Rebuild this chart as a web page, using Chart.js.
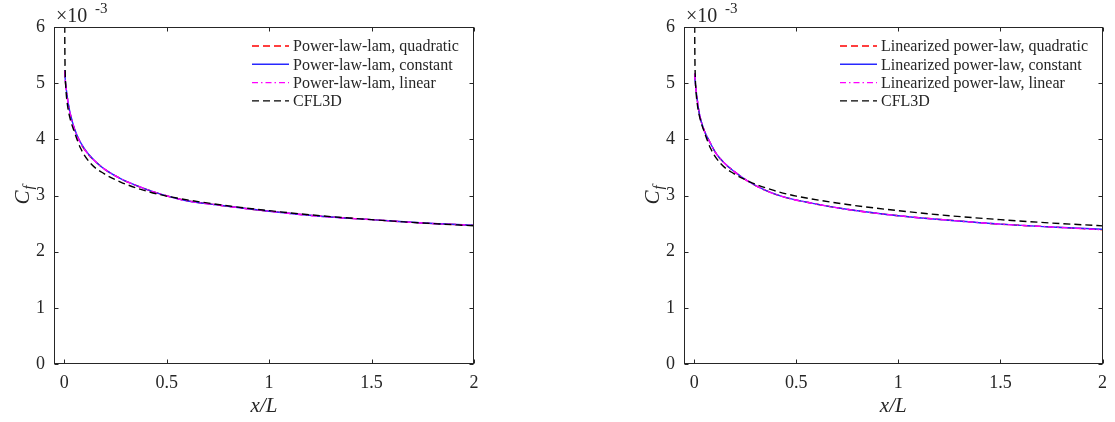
<!DOCTYPE html>
<html>
<head>
<meta charset="utf-8">
<script src="https://cdn.jsdelivr.net/npm/chart.js@4"></script>
<style>
  body{margin:0;background:#fff;width:1115px;height:422px;overflow:hidden}
  .panel{position:absolute;top:0;height:422px}
  #left{left:0;width:557px}
  #right{left:557px;width:558px}
</style>
</head>
<body>
<div class="panel" id="left"><canvas id="cLeft"></canvas></div>
<div class="panel" id="right"><canvas id="cRight"></canvas></div>
<script>
// axis ticks
const xTicks = [0, 0.5, 1, 1.5, 2];
const xTickLabels = ['0', '0.5', '1', '1.5', '2'];
const yTicks = [0, 1, 2, 3, 4, 5, 6];

// Cf values are in units of 1e-3 (see the x10^-3 note on the axis)
const xCfl3d   = [0.001, 0.003, 0.005, 0.008, 0.015, 0.03, 0.047, 0.08, 0.129, 0.194, 0.275, 0.39, 0.5, 0.75, 1.0, 1.25, 1.5, 1.75, 2.0];
const cfCfl3d  = [7.0,   5.60,  5.15,  4.90,  4.63,  4.35, 4.16,  3.84, 3.57,  3.39,  3.24,  3.09, 2.99, 2.84, 2.73, 2.64, 2.57, 2.51, 2.46];

// left panel: power-law-lam
const xPowerLaw        = [0.002, 0.005, 0.01, 0.02, 0.03, 0.05, 0.08, 0.12, 0.16, 0.2, 0.275, 0.35, 0.44, 0.58, 0.75, 1.0, 1.25, 1.5, 1.75, 2.0];
const cfPowerQuadratic = [5.22,  5.05,  4.88, 4.62, 4.44, 4.18, 3.93, 3.72, 3.58, 3.46, 3.30, 3.18, 3.06, 2.92, 2.83, 2.72, 2.63, 2.57, 2.51, 2.47];
const cfPowerConstant  = [5.23,  5.06,  4.89, 4.63, 4.45, 4.19, 3.94, 3.73, 3.58, 3.46, 3.30, 3.18, 3.06, 2.92, 2.83, 2.72, 2.63, 2.57, 2.51, 2.47];
const cfPowerLinear    = [5.22,  5.05,  4.88, 4.62, 4.44, 4.18, 3.93, 3.72, 3.58, 3.46, 3.30, 3.18, 3.06, 2.92, 2.83, 2.72, 2.63, 2.57, 2.51, 2.47];

// right panel: linearized power-law
const xLinearized    = [0.002, 0.005, 0.01, 0.025, 0.05, 0.074, 0.107, 0.15, 0.188, 0.27, 0.35, 0.433, 0.58, 0.755, 1.0, 1.25, 1.5, 1.75, 2.0];
const cfLinQuadratic = [5.17,  5.02,  4.85, 4.46,  4.15, 3.97,  3.75,  3.57, 3.45,  3.24, 3.09, 2.98,  2.86, 2.75,  2.64, 2.56, 2.49, 2.44, 2.39];
const cfLinConstant  = [5.17,  5.02,  4.85, 4.46,  4.15, 3.97,  3.75,  3.57, 3.45,  3.24, 3.09, 2.98,  2.86, 2.75,  2.64, 2.56, 2.49, 2.44, 2.40];
const cfLinLinear    = [5.17,  5.02,  4.85, 4.46,  4.15, 3.97,  3.75,  3.57, 3.45,  3.24, 3.09, 2.98,  2.86, 2.75,  2.64, 2.56, 2.49, 2.44, 2.39];

const leftLabels  = ['Power-law-lam, quadratic', 'Power-law-lam, constant', 'Power-law-lam, linear', 'CFL3D'];
const rightLabels = ['Linearized power-law, quadratic', 'Linearized power-law, constant', 'Linearized power-law, linear', 'CFL3D'];

const SERIF = '"Liberation Serif", "Times New Roman", serif';
const INK = '#262626';

const pts = (xs, ys) => xs.map((x, i) => ({x, y: ys[i]}));

function makeSets(labels, xs, quad, cons, lin){
  const base = {fill:false, pointRadius:0, borderWidth:1.4, cubicInterpolationMode:'monotone'};
  return [
    {...base, label: labels[0], data: pts(xs, quad), borderColor:'#ff0000', borderDash:[7,4], order:4},
    {...base, label: labels[1], data: pts(xs, cons), borderColor:'#2828ff', order:3},
    {...base, label: labels[2], data: pts(xs, lin),  borderColor:'#ff00ff', borderDash:[6,3,1.5,3], order:2},
    {...base, label: labels[3], data: pts(xCfl3d, cfCfl3d), borderColor:'#000000', borderDash:[7,4], order:1},
  ];
}

// frame with inward ticks, legend, axis titles
const decor = {
  id: 'decor',
  afterDatasetsDraw(chart, args, o){
    const {ctx, chartArea: a, scales: {x, y}} = chart;
    ctx.save();
    ctx.strokeStyle = INK; ctx.lineWidth = 1; ctx.setLineDash([]);
    const L = Math.round(a.left)+0.5, T = Math.round(a.top)+0.5, R = Math.round(a.right)-0.5, B = Math.round(a.bottom)-0.5;
    ctx.strokeRect(L, T, R-L, B-T);
    ctx.beginPath();
    for(const v of xTicks){
      const px = Math.round(x.getPixelForValue(v))+0.5;
      ctx.moveTo(px, B); ctx.lineTo(px, B-4);
      ctx.moveTo(px, T); ctx.lineTo(px, T+4);
    }
    for(const v of yTicks){
      const py = Math.round(y.getPixelForValue(v))+0.5;
      ctx.moveTo(L, py); ctx.lineTo(L+4, py);
      ctx.moveTo(R, py); ctx.lineTo(R-4, py);
    }
    ctx.stroke();

    // legend
    ctx.font = `16px ${SERIF}`;
    ctx.textBaseline = 'middle';
    ctx.fillStyle = INK;
    chart.data.datasets.forEach((d, i) => {
      const ly = o.legY + i*o.legRow;
      ctx.strokeStyle = d.borderColor;
      ctx.lineWidth = 1.4;
      ctx.setLineDash(d.borderDash || []);
      ctx.beginPath(); ctx.moveTo(o.legX, ly); ctx.lineTo(o.legX+37, ly); ctx.stroke();
      ctx.fillText(d.label, o.legX+41, ly+1);
    });
    ctx.setLineDash([]);

    // x title
    const cx = (a.left+a.right)/2;
    ctx.font = `italic 21px ${SERIF}`;
    ctx.textAlign = 'center';
    ctx.fillText('x/L', cx, 406);

    // y title C_f
    ctx.save();
    ctx.translate(o.yTitleX, 195);
    ctx.rotate(-Math.PI/2);
    ctx.font = `italic 21px ${SERIF}`;
    const wc = ctx.measureText('C').width;
    ctx.font = `italic 15px ${SERIF}`;
    const wf = ctx.measureText('f').width;
    ctx.textAlign = 'left';
    ctx.textBaseline = 'alphabetic';
    const sx = -(wc+wf+1)/2;
    ctx.font = `italic 21px ${SERIF}`;
    ctx.fillText('C', sx, 7);
    ctx.font = `italic 15px ${SERIF}`;
    ctx.fillText('f', sx+wc+1, 11);
    ctx.restore();

    // exponent note
    ctx.textAlign = 'left';
    ctx.textBaseline = 'alphabetic';
    ctx.font = `20px ${SERIF}`;
    ctx.fillText('\u00d710', a.left+2, 22);
    ctx.font = `15px ${SERIF}`;
    ctx.fillText('-3', a.left+41, 13);
    ctx.restore();
  }
};

function makeChart(id, sets, yWidth, padRight, legX, yTitleX){
  return new Chart(document.getElementById(id), {
    type: 'line',
    data: {datasets: sets},
    plugins: [decor],
    options: {
      responsive: true,
      maintainAspectRatio: false,
      animation: false,
      layout: {padding: {left: 0, top: 27, right: padRight, bottom: 0}},
      plugins: {
        legend: {display: false},
        tooltip: {enabled: false},
        decor: {legX, legY: 46, legRow: 18.3, yTitleX}
      },
      scales: {
        x: {
          type: 'linear', min: -0.05, max: 2,
          afterBuildTicks: s => { s.ticks = xTicks.map(v => ({value: v})); },
          afterFit: s => { s.height = 58; },
          grid: {display: false, drawTicks: false},
          border: {display: false},
          ticks: {
            color: INK, padding: 8, maxRotation: 0,
            font: {family: SERIF, size: 18},
            callback: v => xTickLabels[xTicks.indexOf(v)]
          }
        },
        y: {
          type: 'linear', min: 0, max: 6,
          afterBuildTicks: s => { s.ticks = yTicks.map(v => ({value: v})); },
          afterFit: s => { s.width = yWidth; },
          grid: {display: false, drawTicks: false},
          border: {display: false},
          ticks: {color: INK, padding: 9, font: {family: SERIF, size: 18}}
        }
      }
    }
  });
}

makeChart('cLeft',  makeSets(leftLabels,  xPowerLaw,   cfPowerQuadratic, cfPowerConstant, cfPowerLinear), 54, 83, 252, 22);
makeChart('cRight', makeSets(rightLabels, xLinearized, cfLinQuadratic,   cfLinConstant,   cfLinLinear),   127, 11, 283, 95);
</script>
</body>
</html>
